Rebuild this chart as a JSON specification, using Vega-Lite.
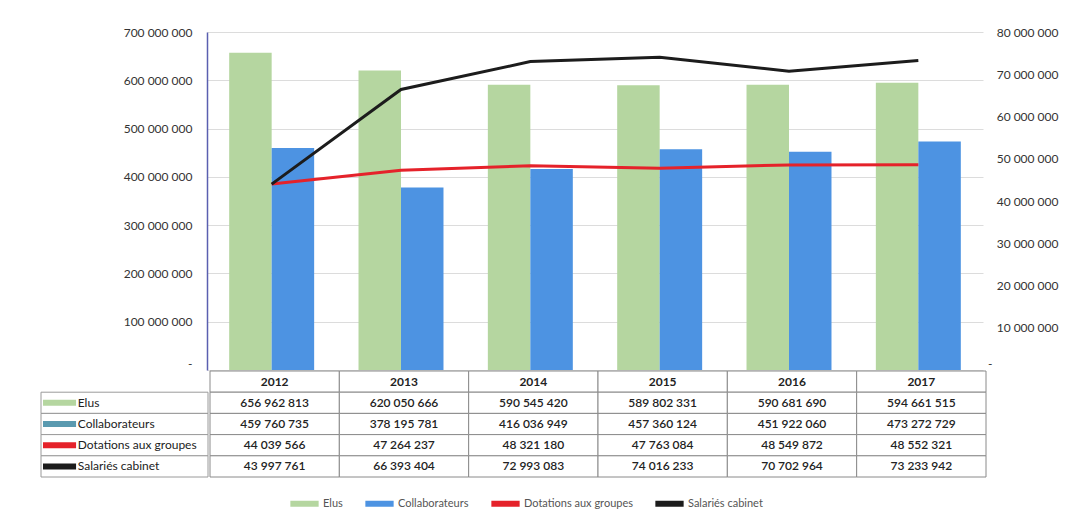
{
  "$schema": "https://vega.github.io/schema/vega-lite/v6.json",
  "padding": {"left": 40, "top": 26, "right": 5, "bottom": 5},
  "background": "white",
  "config": {
    "font": "Lato",
    "view": {"stroke": null},
    "locale": {"number": {"decimal": ",", "thousands": " ", "grouping": [3], "currency": ["", ""]}}
  },
  "datasets": {
    "d": [
      {"year": "2012", "series": "Elus", "value": 656962813},
      {"year": "2013", "series": "Elus", "value": 620050666},
      {"year": "2014", "series": "Elus", "value": 590545420},
      {"year": "2015", "series": "Elus", "value": 589802331},
      {"year": "2016", "series": "Elus", "value": 590681690},
      {"year": "2017", "series": "Elus", "value": 594661515},
      {"year": "2012", "series": "Collaborateurs", "value": 459760735},
      {"year": "2013", "series": "Collaborateurs", "value": 378195781},
      {"year": "2014", "series": "Collaborateurs", "value": 416036949},
      {"year": "2015", "series": "Collaborateurs", "value": 457360124},
      {"year": "2016", "series": "Collaborateurs", "value": 451922060},
      {"year": "2017", "series": "Collaborateurs", "value": 473272729},
      {"year": "2012", "series": "Dotations aux groupes", "value": 44039566},
      {"year": "2013", "series": "Dotations aux groupes", "value": 47264237},
      {"year": "2014", "series": "Dotations aux groupes", "value": 48321180},
      {"year": "2015", "series": "Dotations aux groupes", "value": 47763084},
      {"year": "2016", "series": "Dotations aux groupes", "value": 48549872},
      {"year": "2017", "series": "Dotations aux groupes", "value": 48552321},
      {"year": "2012", "series": "Salariés cabinet", "value": 43997761},
      {"year": "2013", "series": "Salariés cabinet", "value": 66393404},
      {"year": "2014", "series": "Salariés cabinet", "value": 72993083},
      {"year": "2015", "series": "Salariés cabinet", "value": 74016233},
      {"year": "2016", "series": "Salariés cabinet", "value": 70702964},
      {"year": "2017", "series": "Salariés cabinet", "value": 73233942}
    ],
    "years": [
      {"year": "2012"}, {"year": "2013"}, {"year": "2014"},
      {"year": "2015"}, {"year": "2016"}, {"year": "2017"}
    ]
  },
  "spacing": 0,
  "vconcat": [
    {
      "spacing": 0,
      "hconcat": [
        {
          "width": 66,
          "height": 338,
          "data": {"values": [{}]},
          "mark": {"type": "point", "opacity": 0},
          "encoding": {}
        },
        {
          "width": 776,
          "height": 338,
          "data": {"name": "d"},
          "encoding": {
            "x": {"field": "year", "type": "nominal", "scale": {"paddingInner": 0.343, "paddingOuter": 0.1715}, "axis": null}
          },
          "layer": [
            {
              "transform": [{"filter": "datum.series == 'Elus' || datum.series == 'Collaborateurs'"}],
              "mark": {"type": "bar"},
              "encoding": {
                "xOffset": {"field": "series", "type": "nominal", "sort": ["Elus", "Collaborateurs"], "scale": {"paddingInner": 0, "paddingOuter": 0}},
                "y": {
                  "field": "value", "type": "quantitative",
                  "scale": {"domain": [0, 700000000], "nice": false},
                  "axis": {
                    "title": null, "format": ",d",
                    "values": [0, 100000000, 200000000, 300000000, 400000000, 500000000, 600000000, 700000000],
                    "labelExpr": "datum.value == 0 ? '-' : datum.label",
                    "grid": true, "gridColor": "#dcdcdc",
                    "domainColor": "#5a5fb0", "domainWidth": 1.5,
                    "ticks": false, "labelPadding": 15,
                    "labelFontSize": 12, "labelColor": "#333333",
                    "labelBaseline": {"condition": {"test": "datum.value == 0", "value": "bottom"}, "value": "middle"},
                    "minExtent": 100, "maxExtent": 100
                  }
                },
                "color": {
                  "field": "series", "type": "nominal",
                  "scale": {
                    "domain": ["Elus", "Collaborateurs", "Dotations aux groupes", "Salariés cabinet"],
                    "range": ["#b5d6a0", "#4d93e2", "#e5222a", "#1c1c1c"]
                  },
                  "legend": {
                    "orient": "none", "legendX": 246, "legendY": 454,
                    "direction": "horizontal", "title": null,
                    "symbolType": "stroke", "symbolSize": 800, "symbolStrokeWidth": 3,
                    "labelFontSize": 11, "labelColor": "#555555", "columnPadding": 10, "labelOffset": 1,
                    "encode": {
                      "symbols": {
                        "update": {
                          "stroke": {"scale": "color", "field": "value"},
                          "fill": {"value": "transparent"},
                          "strokeWidth": {"signal": "datum.value == 'Elus' || datum.value == 'Collaborateurs' ? 6 : 3"}
                        }
                      }
                    }
                  }
                }
              }
            },
            {
              "transform": [{"filter": "datum.series == 'Dotations aux groupes' || datum.series == 'Salariés cabinet'"}],
              "mark": {"type": "line", "strokeWidth": 3},
              "encoding": {
                "y": {
                  "field": "value", "type": "quantitative",
                  "scale": {"domain": [0, 80000000], "nice": false},
                  "axis": {
                    "orient": "right", "title": null, "format": ",d",
                    "values": [0, 10000000, 20000000, 30000000, 40000000, 50000000, 60000000, 70000000, 80000000],
                    "labelExpr": "datum.value == 0 ? '-' : datum.label",
                    "grid": false, "domain": false, "ticks": false,
                    "labelAlign": "right",
                    "labelPadding": {"condition": {"test": "datum.value == 0", "value": 9}, "value": 75},
                    "labelBaseline": {"condition": {"test": "datum.value == 0", "value": "bottom"}, "value": "middle"},
                    "labelFontSize": 12, "labelColor": "#333333"
                  }
                },
                "color": {"field": "series", "type": "nominal"}
              }
            }
          ],
          "resolve": {"scale": {"y": "independent"}}
        }
      ]
    },
    {
      "spacing": 0,
      "hconcat": [
        {
          "width": 167,
          "height": 106,
          "data": {"name": "d"},
          "transform": [{"filter": "datum.year == '2012'"}],
          "encoding": {
            "y": {
              "field": "series", "type": "nominal",
              "scale": {"domain": [" ", "Elus", "Collaborateurs", "Dotations aux groupes", "Salariés cabinet"], "paddingInner": 0, "paddingOuter": 0},
              "axis": null
            }
          },
          "layer": [
            {
              "mark": {"type": "rect", "fill": "white", "stroke": "#9a9a9a", "strokeWidth": 1},
              "encoding": {
                "x": {"datum": 0, "type": "quantitative", "scale": {"domain": [0, 1], "nice": false}, "axis": null},
                "x2": {"datum": 1}
              }
            },
            {
              "mark": {"type": "rule"},
              "encoding": {
                "x": {"datum": 0.012, "type": "quantitative"},
                "x2": {"datum": 0.21},
                "stroke": {
                  "field": "series", "type": "nominal",
                  "scale": {"domain": ["Elus", "Collaborateurs", "Dotations aux groupes", "Salariés cabinet"], "range": ["#b5d6a0", "#5a9ab0", "#e5222a", "#1c1c1c"]},
                  "legend": null
                },
                "strokeWidth": {
                  "field": "series", "type": "ordinal",
                  "scale": {"domain": ["Elus", "Collaborateurs", "Dotations aux groupes", "Salariés cabinet"], "range": [6, 6, 3, 3]},
                  "legend": null
                }
              }
            },
            {
              "mark": {"type": "text", "align": "left", "fontSize": 12, "color": "#222222"},
              "encoding": {
                "x": {"datum": 0.22, "type": "quantitative"},
                "text": {"field": "series", "type": "nominal"}
              }
            }
          ]
        },
        {
          "width": 776,
          "height": 106,
          "layer": [
            {
              "data": {"name": "years"},
              "mark": {"type": "rect", "fill": "white", "stroke": "#8a8a8a", "strokeWidth": 1},
              "encoding": {
                "x": {"field": "year", "type": "nominal", "scale": {"paddingInner": 0, "paddingOuter": 0}, "axis": null},
                "y": {"datum": " ", "type": "nominal",
                  "scale": {"domain": [" ", "Elus", "Collaborateurs", "Dotations aux groupes", "Salariés cabinet"], "paddingInner": 0, "paddingOuter": 0},
                  "axis": null}
              }
            },
            {
              "data": {"name": "years"},
              "mark": {"type": "text", "fontSize": 12, "fontWeight": "bold", "color": "#222222"},
              "encoding": {
                "x": {"field": "year", "type": "nominal"},
                "y": {"datum": " ", "type": "nominal"},
                "text": {"field": "year", "type": "nominal"}
              }
            },
            {
              "data": {"name": "d"},
              "mark": {"type": "rect", "fill": "white", "stroke": "#8a8a8a", "strokeWidth": 1},
              "encoding": {
                "x": {"field": "year", "type": "nominal"},
                "y": {"field": "series", "type": "nominal"}
              }
            },
            {
              "data": {"name": "d"},
              "mark": {"type": "text", "fontSize": 12, "fontWeight": 600, "color": "#222222"},
              "encoding": {
                "x": {"field": "year", "type": "nominal"},
                "y": {"field": "series", "type": "nominal"},
                "text": {"field": "value", "type": "quantitative", "format": ",d"}
              }
            }
          ]
        }
      ]
    }
  ]
}
